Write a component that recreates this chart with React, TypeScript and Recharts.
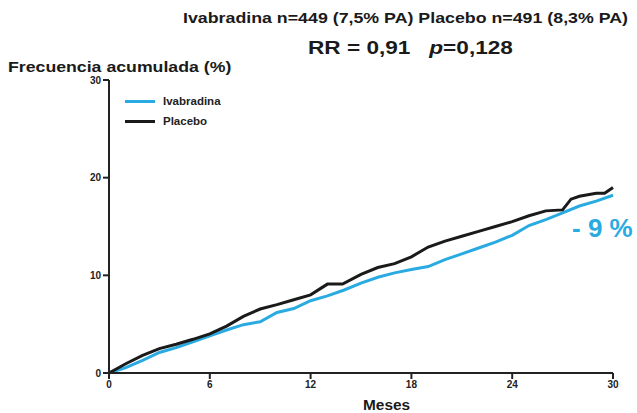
import React from 'react'
import { LineChart, Line, XAxis, YAxis } from 'recharts';

const monthTicks = [0, 6, 12, 18, 24, 30];
const pctTicks = [0, 10, 20, 30];

const ivabradina = [
  { m: 0, v: 0 }, { m: 1, v: 0.55 }, { m: 2, v: 1.3 }, { m: 3, v: 2.1 }, { m: 4, v: 2.6 },
  { m: 5, v: 3.2 }, { m: 6, v: 3.8 }, { m: 7, v: 4.4 }, { m: 8, v: 4.95 }, { m: 9, v: 5.25 },
  { m: 10, v: 6.2 }, { m: 11, v: 6.6 }, { m: 12, v: 7.4 }, { m: 13, v: 7.9 }, { m: 14, v: 8.5 },
  { m: 15, v: 9.2 }, { m: 16, v: 9.8 }, { m: 17, v: 10.25 }, { m: 18, v: 10.6 }, { m: 19, v: 10.9 },
  { m: 20, v: 11.6 }, { m: 21, v: 12.2 }, { m: 22, v: 12.8 }, { m: 23, v: 13.4 }, { m: 24, v: 14.1 },
  { m: 25, v: 15.1 }, { m: 26, v: 15.7 }, { m: 27, v: 16.4 }, { m: 28, v: 17.1 }, { m: 29, v: 17.6 },
  { m: 30, v: 18.2 },
];

const placebo = [
  { m: 0, v: 0 }, { m: 1, v: 0.95 }, { m: 2, v: 1.8 }, { m: 3, v: 2.5 }, { m: 4, v: 2.95 },
  { m: 5, v: 3.45 }, { m: 6, v: 4.0 }, { m: 7, v: 4.8 }, { m: 8, v: 5.8 }, { m: 9, v: 6.55 },
  { m: 10, v: 7.0 }, { m: 11, v: 7.5 }, { m: 12, v: 8.0 }, { m: 13, v: 9.1 }, { m: 13.9, v: 9.1 },
  { m: 15, v: 10.1 }, { m: 16, v: 10.8 }, { m: 17, v: 11.2 }, { m: 18, v: 11.9 }, { m: 19, v: 12.9 },
  { m: 20, v: 13.5 }, { m: 21, v: 14.0 }, { m: 22, v: 14.5 }, { m: 23, v: 15.0 }, { m: 24, v: 15.5 },
  { m: 25, v: 16.1 }, { m: 26, v: 16.6 }, { m: 27, v: 16.7 }, { m: 27.5, v: 17.8 }, { m: 28, v: 18.1 },
  { m: 29, v: 18.4 }, { m: 29.5, v: 18.4 }, { m: 30, v: 19.0 },
];

const BLUE = '#29abe2';
const INK = '#1a1a1a';
const font = '"Liberation Sans", Arial, sans-serif';

const legendItems = [
  { name: 'Ivabradina', color: BLUE },
  { name: 'Placebo', color: INK },
];

const tickStyle = { fontSize: 10, fontWeight: 'bold', fill: '#222', fontFamily: font };

const txt = (left: number, top: number, size: number, sx: number, extra: React.CSSProperties = {}) => ({
  position: 'absolute' as const, left, top, fontSize: size, fontWeight: 'bold' as const, fontFamily: font,
  color: '#1a1a1a', whiteSpace: 'nowrap' as const, transform: `scaleX(${sx})`, transformOrigin: 'left',
  lineHeight: 1, ...extra,
});

export default function App() {
  return (
    <div style={{ position: 'absolute', left: 0, top: 0, width: 637, height: 413, background: '#fff', overflow: 'hidden' }}>
      <LineChart width={637} height={413} margin={{ top: 80, right: 24, bottom: 10, left: 69 }}>
        <XAxis type="number" dataKey="m" domain={[0, 30]} ticks={monthTicks} interval={0}
          axisLine={{ stroke: '#222', strokeWidth: 2 }} tickLine={{ stroke: '#222', strokeWidth: 2 }}
          tickSize={6} tick={tickStyle} height={30} />
        <YAxis type="number" domain={[0, 30]} ticks={pctTicks} interval={0} width={40}
          axisLine={{ stroke: '#222', strokeWidth: 2 }} tickLine={{ stroke: '#222', strokeWidth: 2 }}
          tickSize={6} tick={tickStyle} />
        <Line data={ivabradina} dataKey="v" name="Ivabradina" stroke={BLUE} strokeWidth={3} dot={false} isAnimationActive={false} />
        <Line data={placebo} dataKey="v" name="Placebo" stroke={INK} strokeWidth={3} dot={false} isAnimationActive={false} />
      </LineChart>
      {/* legend */}
      <div style={{ position: 'absolute', left: 125, top: 91, fontFamily: font, fontSize: 10, fontWeight: 'bold', color: '#222' }}>
        {legendItems.map((it) => (
          <div key={it.name} style={{ display: 'flex', alignItems: 'center', height: 20 }}>
            <span style={{ width: 30, height: 3, background: it.color, marginRight: 8 }} />
            <span style={{ transform: 'scaleX(1.15)', transformOrigin: 'left' }}>{it.name}</span>
          </div>
        ))}
      </div>
      <div style={txt(183, 11, 14, 1.27)}>Ivabradina n=449 (7,5% PA) Placebo n=491 (8,3% PA)</div>
      <div style={txt(308, 38, 19, 1.19)}>RR = 0,91&nbsp;&nbsp;&nbsp;<i>p</i>=0,128</div>
      <div style={txt(8, 59, 15, 1.18)}>Frecuencia acumulada (%)</div>
      <div style={txt(363, 398, 14, 1.1)}>Meses</div>
      <div style={txt(572, 215, 26, 1.0, { color: BLUE })}>- 9 %</div>
    </div>
  );
}
